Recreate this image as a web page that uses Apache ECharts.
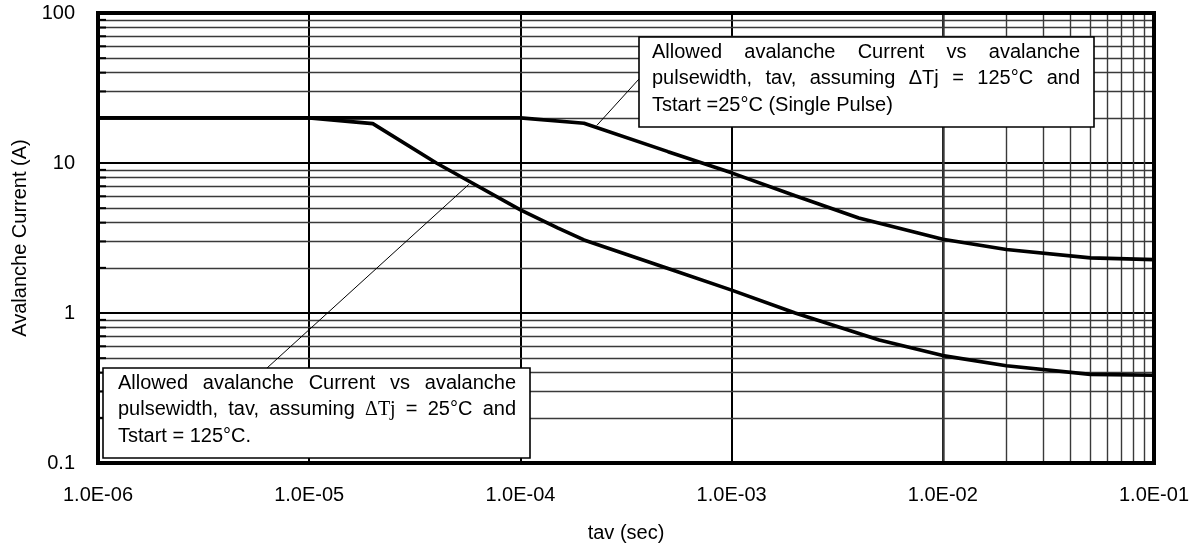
<!DOCTYPE html>
<html><head><meta charset="utf-8">
<script src="https://cdn.jsdelivr.net/npm/echarts@6/dist/echarts.min.js"></script>
<style>html,body{margin:0;padding:0;background:#fff}#c{width:1195px;height:548px}</style>
</head><body><div id="c"></div>
<script>
// ---- data ----
const tavA = [1e-6, 1e-5, 1e-4, 2e-4, 5e-4, 1e-3, 2e-3, 4e-3, 1e-2, 2e-2, 5e-2, 1e-1];
const currentA = [20, 20, 20, 18.4, 11.9, 8.6, 6.05, 4.3, 3.1, 2.65, 2.33, 2.27];   // dTj=125C, Tstart=25C
const tavB = [1e-6, 1e-5, 2e-5, 4e-5, 1e-4, 1.5e-4, 2e-4, 5e-4, 1e-3, 2e-3, 5e-3, 1e-2, 2e-2, 5e-2, 1e-1];
const currentB = [20, 20, 18.3, 10.0, 4.87, 3.7, 3.07, 1.98, 1.42, 1.0, 0.66, 0.52, 0.445, 0.39, 0.385]; // dTj=25C, Tstart=125C
const xTickLabels = ['1.0E-06', '1.0E-05', '1.0E-04', '1.0E-03', '1.0E-02', '1.0E-01'];
const yTickLabels = ['0.1', '1', '10', '100'];
const xDecades = [1e-6, 1e-5, 1e-4, 1e-3, 1e-2];
const yDecades = [0.1, 1, 10];
const minorSteps = [2, 3, 4, 5, 6, 7, 8, 9];
const noteA = ['Allowed avalanche Current vs avalanche', 'pulsewidth, tav, assuming \u0394Tj = 125\u00b0C and', 'Tstart =25\u00b0C (Single Pulse)'];
const noteB = ['Allowed avalanche Current vs avalanche', 'pulsewidth, tav, assuming \u0394Tj = 25\u00b0C and', 'Tstart = 125\u00b0C.'];
const anchorA = [2.3e-4, 17.8];
const anchorB = [5.7e-5, 7.2];

const FONT = '"Liberation Sans", Arial, Helvetica, sans-serif';
const FS = 20;
const chart = echarts.init(document.getElementById('c'), null, {renderer: 'canvas'});

const minorLines = [];
const yMinorVals = [];
xDecades.forEach(d => minorSteps.forEach(m => minorLines.push({xAxis: d * m})));
yDecades.forEach(d => minorSteps.forEach(m => { minorLines.push({yAxis: d * m}); yMinorVals.push(d * m); }));

function lg(v) { return Math.round(Math.log10(v)); }

chart.setOption({
  animation: false,
  grid: {left: 98, right: 41, top: 13, bottom: 83, containLabel: false},
  xAxis: {
    type: 'log', logBase: 10, min: 1e-6, max: 1e-1, splitNumber: 5,
    name: 'tav (sec)', nameLocation: 'middle', nameGap: 60,
    nameTextStyle: {fontFamily: FONT, fontSize: FS, color: '#000'},
    axisLine: {show: false}, axisTick: {show: false},
    axisLabel: {fontFamily: FONT, fontSize: FS, color: '#000', margin: 22,
      formatter: v => xTickLabels[lg(v) + 6] || ''},
    splitLine: {show: true, lineStyle: {color: '#000', width: 2}}
  },
  yAxis: {
    type: 'log', logBase: 10, min: 0.1, max: 100, splitNumber: 3,
    name: 'Avalanche Current (A)', nameLocation: 'middle', nameGap: 68,
    nameTextStyle: {fontFamily: FONT, fontSize: FS, color: '#000'},
    axisLine: {show: false}, axisTick: {show: false},
    axisLabel: {fontFamily: FONT, fontSize: FS, color: '#000', margin: 23,
      formatter: v => yTickLabels[lg(v) + 1] || ''},
    splitLine: {show: true, lineStyle: {color: '#000', width: 2}}
  },
  series: [
    {type: 'line', z: 1, silent: true, data: [], symbol: 'none',
     markLine: {silent: true, symbol: 'none', label: {show: false}, animation: false,
       lineStyle: {color: '#3a3a3a', width: 1.4, type: 'solid'}, data: minorLines}},
    {type: 'line', z: 5, data: tavA.map((t, i) => [t, currentA[i]]), symbol: 'none',
     lineStyle: {color: '#000', width: 3.6}},
    {type: 'line', z: 5, data: tavB.map((t, i) => [t, currentB[i]]), symbol: 'none',
     lineStyle: {color: '#000', width: 3.6}}
  ]
});

// ---- annotations ----
const ctx = document.createElement('canvas').getContext('2d');
function measure(t, fam) { ctx.font = FS + 'px ' + fam; return ctx.measureText(t).width; }
const SERIF = '"Liberation Serif", "DejaVu Serif", serif';

function noteElements(box, lines, lineH, padL, padR, firstY) {
  const els = [{type: 'rect', z: 50, shape: {x: box.x, y: box.y, width: box.w, height: box.h},
    style: {fill: '#fff', stroke: '#000', lineWidth: 1.6}}];
  const W = box.w - padL - padR;
  lines.forEach((ln, i) => {
    const words = ln.split(' ');
    const fams = words.map(w => (w.indexOf('\u0394') >= 0 && box.serifDelta) ? SERIF : FONT);
    const widths = words.map((w, k) => measure(w, fams[k]));
    const sum = widths.reduce((a, b) => a + b, 0);
    const last = i === lines.length - 1;
    const gap = last ? measure(' ', FONT) : (W - sum) / (words.length - 1);
    let x = box.x + padL;
    const y = box.y + firstY + i * lineH;
    words.forEach((w, k) => {
      els.push({type: 'text', z: 51, x: x, y: y,
        style: {text: w, fontFamily: fams[k], fontSize: FS, fill: '#000', verticalAlign: 'middle', align: 'left'}});
      x += widths[k] + gap;
    });
  });
  return els;
}

const boxA = {x: 639, y: 37, w: 455, h: 90};
const boxB = {x: 103, y: 368, w: 427, h: 90, serifDelta: true};
const pA = chart.convertToPixel({gridIndex: 0}, anchorA);
const pB = chart.convertToPixel({gridIndex: 0}, anchorB);
const tl = chart.convertToPixel({gridIndex: 0}, [1e-6, 100]);
const br = chart.convertToPixel({gridIndex: 0}, [1e-1, 0.1]);

// short inner ticks on the left frame at each minor y line
const leftTicks = yMinorVals.map(v => {
  const p = chart.convertToPixel({gridIndex: 0}, [1e-6, v]);
  return {type: 'line', z: 40, shape: {x1: tl[0], y1: p[1], x2: tl[0] + 8, y2: p[1]}, style: {stroke: '#000', lineWidth: 2}};
});

const graphic = [
  ...leftTicks,
  {type: 'line', z: 49, shape: {x1: boxA.x, y1: boxA.y + 42, x2: pA[0], y2: pA[1]}, style: {stroke: '#000', lineWidth: 1}},
  {type: 'line', z: 49, shape: {x1: boxB.x + 164, y1: boxB.y, x2: pB[0], y2: pB[1]}, style: {stroke: '#000', lineWidth: 1}},
  ...noteElements(boxA, noteA, 26.5, 13, 14, 15),
  ...noteElements(boxB, noteB, 26.5, 15, 14, 15),
  {type: 'rect', z: 60, shape: {x: tl[0], y: tl[1], width: br[0] - tl[0], height: br[1] - tl[1]},
   style: {fill: 'none', stroke: '#000', lineWidth: 4}}
];
chart.setOption({graphic: graphic});
</script>
</body></html>
